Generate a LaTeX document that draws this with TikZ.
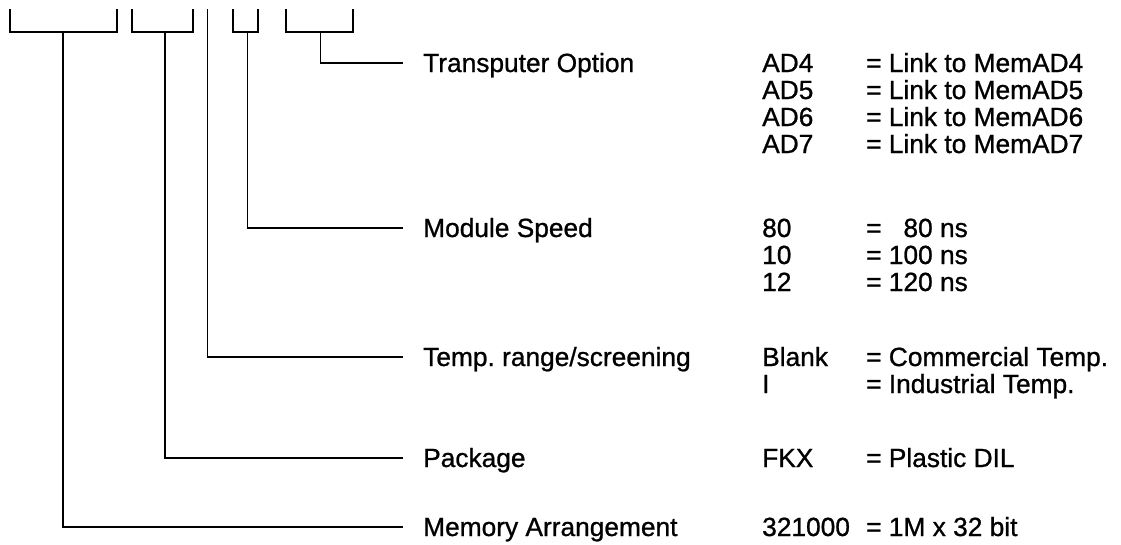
\documentclass[tikz,border=0pt]{standalone}
\usepackage{fontspec}
\setmainfont{Liberation Sans}
\newfontfamily\scanfont{Liberation Sans}[FakeBold=0.9]
\frenchspacing
\begin{document}
\begin{tikzpicture}[x=1pt,y=-1pt,
  wire/.style={line width=1.7pt,line cap=butt,line join=miter},
  lab/.style={anchor=west,inner xsep=20pt,inner ysep=0pt,text height=18pt,text depth=0pt,
    font=\scanfont\fontsize{26.3}{27}\selectfont},
  val/.style={anchor=west,inner sep=0pt,text height=18pt,text depth=0pt,
    font=\scanfont\fontsize{26.3}{27}\selectfont}]
\useasboundingbox[fill=white] (0,0) rectangle (1121,544);
% bracket coordinates
\coordinate (s1) at (63,32);
\coordinate (s2) at (165,32);
\coordinate (s3) at (207.5,9);
\coordinate (s4) at (247.5,32);
\coordinate (s5) at (320.5,32);
% labels
\node[lab] (tr) at (403,63) {Transputer Option};
\node[lab] (ms) at (403,228) {Module Speed};
\node[lab] (tp) at (403,357) {Temp.\ range/screening};
\node[lab] (pk) at (403,458) {Package};
\node[lab] (ma) at (403,527) {Memory Arrangement};
% brackets
\draw[wire] (10,9) -- (10,32) -- (117,32) -- (117,9);
\draw[wire] (132,9) -- (132,32) -- (193,32) -- (193,9);
\draw[wire] (233,9) -- (233,32) -- (258,32) -- (258,9);
\draw[wire] (286,9) -- (286,32) -- (353,32) -- (353,9);
% connectors
\draw[wire] (s5) |- (tr.west);
\draw[wire] (s4) |- (ms.west);
\draw[wire] (s3) |- (tp.west);
\draw[wire] (s2) |- (pk.west);
\draw[wire] (s1) |- (ma.west);
% values
\node[val] (v1a) at (762,63) {AD4};  \node[val] (e1a) at (866,63) {= Link to MemAD4};
\node[val] (v1b) at (762,90) {AD5};  \node[val] (e1b) at (866,90) {= Link to MemAD5};
\node[val] (v1c) at (762,117) {AD6}; \node[val] (e1c) at (866,117) {= Link to MemAD6};
\node[val] (v1d) at (762,144) {AD7}; \node[val] (e1d) at (866,144) {= Link to MemAD7};
\node[val] (v2a) at (762,228) {80};  \node[val] (e2a) at (866,228) {= \phantom{1}80 ns};
\node[val] (v2b) at (762,255) {10};  \node[val] (e2b) at (866,255) {= 100 ns};
\node[val] (v2c) at (762,282) {12};  \node[val] (e2c) at (866,282) {= 120 ns};
\node[val] (v3a) at (762,357) {Blank}; \node[val] (e3a) at (866,357) {= Commercial Temp.};
\node[val] (v3b) at (762,384) {I};     \node[val] (e3b) at (866,384) {= Industrial Temp.};
\node[val] (v4) at (762,458) {FKX};    \node[val] (e4) at (866,458) {= Plastic DIL};
\node[val] (v5) at (762,527) {321000}; \node[val] (e5) at (866,527) {= 1M x 32 bit};
\end{tikzpicture}
\end{document}
